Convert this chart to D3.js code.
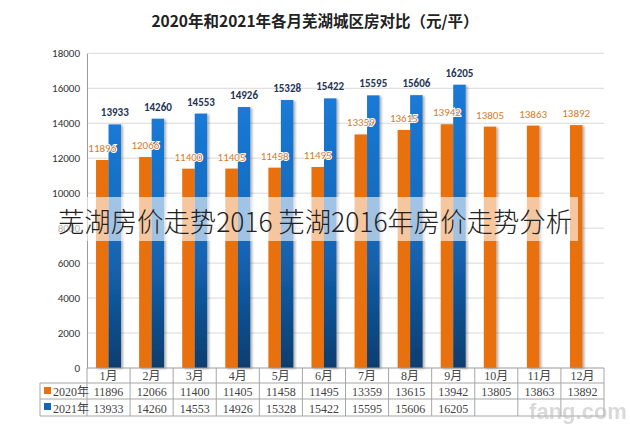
<!DOCTYPE html>
<html><head><meta charset="utf-8">
<script src="https://cdn.jsdelivr.net/npm/d3@7"></script>
<style>body{margin:0;background:#fff}svg{display:block}</style>
</head><body>
<svg id="c" width="630" height="425"></svg>
<script>
const months = ["1月","2月","3月","4月","5月","6月","7月","8月","9月","10月","11月","12月"];
const series = ["2020年","2021年"];
const values2020 = [11896,12066,11400,11405,11458,11495,13359,13615,13942,13805,13863,13892];
const values2021 = [13933,14260,14553,14926,15328,15422,15595,15606,16205,null,null,null];
const yTicks = [0,2000,4000,6000,8000,10000,12000,14000,16000,18000];
const title = "2020年和2021年各月芜湖城区房对比（元/平）";
const watermark = "芜湖房价走势2016 芜湖2016年房价走势分析";

const svg = d3.select("#c");
const L = 87, R = 604, T = 53.3, B = 368;
const x = d3.scaleBand().domain(months).range([L, R]).paddingInner(0.42).paddingOuter(0.21);
const xs = d3.scaleBand().domain(series).range([0, x.bandwidth()]);
const y = d3.scaleLinear().domain([0, 18000]).range([B, T]);

const defs = svg.append("defs");
const g1 = defs.append("linearGradient").attr("id","blueG").attr("x1",0).attr("y1",0).attr("x2",0).attr("y2",1);
g1.append("stop").attr("offset","0%").attr("stop-color","#1a7ad6");
g1.append("stop").attr("offset","55%").attr("stop-color","#1465b4");
g1.append("stop").attr("offset","100%").attr("stop-color","#0b3d6f");
const f = defs.append("filter").attr("id","sh").attr("x","-50%").attr("y","-10%").attr("width","200%").attr("height","120%");
f.append("feDropShadow").attr("dx",2).attr("dy",1).attr("stdDeviation",1.3).attr("flood-color","#000").attr("flood-opacity",0.3);

// title
svg.append("text").attr("x",315).attr("y",27).attr("text-anchor","middle")
  .attr("font-family","'Noto Sans CJK SC',sans-serif").attr("font-weight","bold")
  .attr("font-size",15.5).attr("fill","#222").text(title);

// gridlines
svg.append("g").selectAll("line").data(yTicks.filter(d=>d>0)).join("line")
  .attr("x1",L).attr("x2",R).attr("y1",d=>y(d)).attr("y2",d=>y(d))
  .attr("stroke","#d9d9d9").attr("stroke-width",1);

// y axis
const ya = svg.append("g").attr("transform",`translate(${L},0)`)
  .call(d3.axisLeft(y).tickValues(yTicks).tickFormat(d3.format("d")).tickSize(0).tickPadding(7));
ya.select(".domain").attr("stroke","#9a9a9a");
ya.selectAll("text").attr("font-family","Carlito,'Liberation Sans',sans-serif").attr("font-size",11).attr("fill","#333");

// bars
const gb = svg.append("g");
months.forEach((m,i)=>{
  const v0 = values2020[i], v1 = values2021[i];
  gb.append("rect").attr("x",x(m)+xs(series[0])).attr("width",xs.bandwidth())
    .attr("y",y(v0)).attr("height",B-y(v0)).attr("fill","#e8700e").attr("filter","url(#sh)");
  if (v1 != null) gb.append("rect").attr("x",x(m)+xs(series[1])).attr("width",xs.bandwidth())
    .attr("y",y(v1)).attr("height",B-y(v1)).attr("fill","url(#blueG)").attr("filter","url(#sh)");
});
// labels
const gl = svg.append("g").attr("font-family","Carlito,'Liberation Sans',sans-serif").attr("font-size",11).attr("text-anchor","middle");
months.forEach((m,i)=>{
  const v0 = values2020[i], v1 = values2021[i];
  gl.append("text").attr("x",x(m)+xs(series[0])+xs.bandwidth()/2).attr("y",y(v0)-8)
    .attr("fill","#d67a2c").attr("stroke","#fff").attr("stroke-width",2).attr("paint-order","stroke").text(v0);
  if (v1 != null) gl.append("text").attr("x",x(m)+xs(series[1])+xs.bandwidth()/2).attr("y",y(v1)-8)
    .attr("fill","#1f3556").attr("font-weight","bold").text(v1);
});

// table
const cw = (R-L)/months.length;
const rows = [368, 383, 399, 416];
const tg = svg.append("g").attr("stroke","#a6a6a6").attr("stroke-width",1);
tg.append("line").attr("x1",L).attr("x2",R).attr("y1",rows[0]).attr("y2",rows[0]).attr("stroke","#9a9a9a");
[1,2,3].forEach(k=>tg.append("line").attr("x1",40).attr("x2",R).attr("y1",rows[k]).attr("y2",rows[k]));
tg.append("line").attr("x1",40).attr("x2",40).attr("y1",rows[1]).attr("y2",rows[3]);
d3.range(months.length+1).forEach(k=>tg.append("line").attr("x1",L+k*cw).attr("x2",L+k*cw).attr("y1",rows[0]).attr("y2",rows[3]));
const tt = svg.append("g").attr("font-family","'Liberation Serif','Noto Sans CJK SC',serif").attr("font-size",12).attr("fill","#444").attr("text-anchor","middle");
months.forEach((m,i)=>{
  const cx = L+(i+0.5)*cw;
  tt.append("text").attr("x",cx).attr("y",380).text(m);
  tt.append("text").attr("x",cx).attr("y",396).text(values2020[i]);
  if (values2021[i]!=null) tt.append("text").attr("x",cx).attr("y",412.5).text(values2021[i]);
});
svg.append("rect").attr("x",44).attr("y",387).attr("width",7).attr("height",7).attr("fill","#e8700e");
svg.append("rect").attr("x",44).attr("y",403).attr("width",7).attr("height",7).attr("fill","#1565b0");
tt.append("text").attr("x",53).attr("y",396).attr("text-anchor","start").text(series[0]);
tt.append("text").attr("x",53).attr("y",412.5).attr("text-anchor","start").text(series[1]);

// fang.com watermark
svg.append("text").attr("x",578).attr("y",419).attr("text-anchor","middle")
  .attr("font-family","'Liberation Sans',sans-serif").attr("font-weight","bold").attr("font-size",22)
  .attr("fill","#bbb").attr("opacity",0.55).text("fang.com");

// overlay band + watermark text
svg.append("rect").attr("x",55).attr("y",197).attr("width",523).attr("height",44).attr("fill","#fff").attr("opacity",0.6);
svg.append("text").attr("x",58).attr("y",232).attr("textLength",514).attr("lengthAdjust","spacingAndGlyphs")
  .attr("font-family","'Noto Sans CJK SC',sans-serif").attr("font-weight",300).attr("font-size",27)
  .attr("fill","#222").text(watermark);
</script>
</body></html>
